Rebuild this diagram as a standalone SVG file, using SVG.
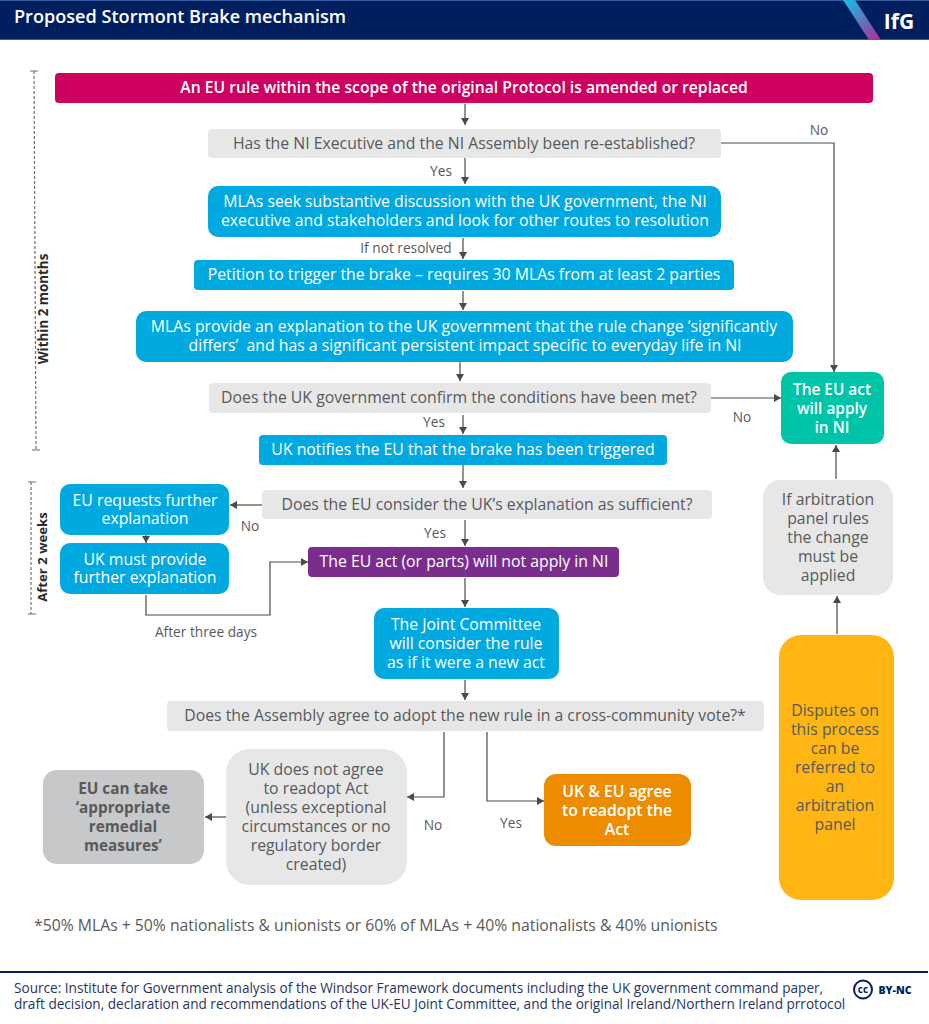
<svg xmlns="http://www.w3.org/2000/svg" width="929" height="1024" viewBox="0 0 929 1024">
<style>
text{font-family:"Open Sans","Noto Sans","Liberation Sans",sans-serif;text-anchor:middle}
.w{fill:#fff;font-size:15.8px}
.g{fill:#58595b;font-size:15.8px}
.l{fill:#58595b;font-size:13.7px}
.blue{fill:#00a9e0}
.grey{fill:#e7e7e8}
.c{fill:none;stroke:#4a4a4a;stroke-width:1.2;marker-end:url(#a)}
.d{fill:none;stroke:#6d6d6d;stroke-width:1.2;stroke-dasharray:3 2}
.t{fill:none;stroke:#6d6d6d;stroke-width:1.2}
.s{fill:#2b2b2b;font-size:13.4px;font-weight:700}
</style>
<defs>
<marker id="a" markerUnits="userSpaceOnUse" markerWidth="8" markerHeight="8" refX="7" refY="4" orient="auto"><path d="M0 0L7 4L0 8Z" fill="#4a4a4a"/></marker>
<linearGradient id="st" x1="0" y1="0" x2="1" y2="1"><stop offset="0.1" stop-color="#1cb5e0"/><stop offset="0.9" stop-color="#a4379e"/></linearGradient>
</defs>
<rect width="929" height="1024" fill="#fff"/>
<g id="header">
<rect x="0" y="0" width="929" height="40" fill="#001f5f"/>
<rect x="0" y="0" width="929" height="1" fill="#3a5a9f"/>
<rect x="0" y="39" width="929" height="1" fill="#3a5a9f"/>
<path d="M843 0H855L881 40H869Z" fill="url(#st)"/>
<text x="14" y="23" style="text-anchor:start;font-size:18.1px;font-weight:600" fill="#fff">Proposed Stormont Brake mechanism</text>
<text x="899" y="29" style="font-size:21px;font-weight:700" fill="#fff">IfG</text>
</g>
<g id="connectors">
<path class="c" d="M465 104V125"/>
<path class="c" d="M465 158V184"/>
<path class="c" d="M463 238V259"/>
<path class="c" d="M463 291V310"/>
<path class="c" d="M460 362V381"/>
<path class="c" d="M463 415V434"/>
<path class="c" d="M463 465V488"/>
<path class="c" d="M465 520V546"/>
<path class="c" d="M465 578V607"/>
<path class="c" d="M465 680V700"/>
<path class="c" d="M721 143H834V372"/>
<path class="c" d="M711 398H781"/>
<path class="c" d="M836 479V445"/>
<path class="c" d="M837 634V596"/>
<path class="c" d="M262 505H230"/>
<path class="c" d="M146 535V543"/>
<path class="c" d="M146 595V615H270V562H308"/>
<path class="c" d="M444 732V797H407"/>
<path class="c" d="M487 732V801H544"/>
<path class="c" d="M226 817H205"/>
</g>
<g id="timeline">
<path class="d" d="M34 71L36 450"/><path class="t" d="M30 71H38M32 450H40"/>
<text class="s" transform="translate(48 309) rotate(-90)">Within 2 months</text>
<path class="d" d="M31 482V614"/><path class="t" d="M28 482H36M28 614H36"/>
<text class="s" style="font-size:13.2px" transform="translate(47 557) rotate(-90)">After 2 weeks</text>
</g>
<g id="n1"><rect x="55" y="73" width="818" height="30" rx="4" fill="#ce0060"/><text class="w" x="464" y="93" style="font-size:15.7px" font-weight="600">An EU rule within the scope of the original Protocol is amended or replaced</text></g>
<g id="n2"><rect class="grey" x="208" y="129" width="513" height="29" rx="4"/><text class="g" x="464" y="149">Has the NI Executive and the NI Assembly been re-established?</text></g>
<g id="n3"><rect class="blue" x="208" y="186" width="513" height="51" rx="10"/><text class="w" x="465" y="207">MLAs seek substantive discussion with the UK government, the NI</text><text class="w" x="465" y="226">executive and stakeholders and look for other routes to resolution</text></g>
<g id="n4"><rect class="blue" x="194" y="260" width="540" height="30" rx="4"/><text class="w" x="464" y="280">Petition to trigger the brake – requires 30 MLAs from at least 2 parties</text></g>
<g id="n5"><rect class="blue" x="136" y="311" width="657" height="51" rx="10"/><text class="w" x="464" y="332">MLAs provide an explanation to the UK government that the rule change ‘significantly</text><text class="w" x="465" y="351" style="white-space:pre">differs’  and has a significant persistent impact specific to everyday life in NI</text></g>
<g id="n6"><rect class="grey" x="209" y="383" width="502" height="30" rx="4"/><text class="g" x="459" y="403">Does the UK government confirm the conditions have been met?</text></g>
<g id="n7"><rect class="blue" x="259" y="435" width="408" height="30" rx="4"/><text class="w" x="463" y="455">UK notifies the EU that the brake has been triggered</text></g>
<g id="n8"><rect class="grey" x="262" y="490" width="450" height="29" rx="4"/><text class="g" x="487" y="510">Does the EU consider the UK’s explanation as sufficient?</text></g>
<g id="n9"><rect class="blue" x="60" y="484" width="169" height="51" rx="10"/><text class="w" x="145" y="506">EU requests further</text><text class="w" x="145" y="524">explanation</text></g>
<g id="n10"><rect class="blue" x="60" y="543" width="169" height="51" rx="10"/><text class="w" x="145" y="565">UK must provide</text><text class="w" x="145" y="583">further explanation</text></g>
<g id="n11"><rect x="308" y="547" width="311" height="30" rx="4" fill="#7b2d8e"/><text class="w" x="464" y="567">The EU act (or parts) will not apply in NI</text></g>
<g id="n12"><rect class="blue" x="374" y="608" width="185" height="71" rx="10"/><text class="w" x="466" y="630">The Joint Committee</text><text class="w" x="466" y="649">will consider the rule</text><text class="w" x="466" y="668">as if it were a new act</text></g>
<g id="n13"><rect class="grey" x="167" y="701" width="597" height="30" rx="4"/><text class="g" x="465" y="721">Does the Assembly agree to adopt the new rule in a cross-community vote?*</text></g>
<g id="n14"><rect class="grey" x="226" y="749" width="181" height="136" rx="24"/><text class="g" x="316" y="775">UK does not agree</text><text class="g" x="316" y="794">to readopt Act</text><text class="g" x="316" y="813">(unless exceptional</text><text class="g" x="316" y="832">circumstances or no</text><text class="g" x="316" y="851">regulatory border</text><text class="g" x="316" y="870">created)</text></g>
<g id="n15"><rect x="43" y="770" width="161" height="94" rx="14" fill="#c7c8ca"/><text class="g" x="123" y="794" style="font-size:15.3px" font-weight="700">EU can take</text><text class="g" x="123" y="813" style="font-size:15.3px" font-weight="700">‘appropriate</text><text class="g" x="123" y="832" style="font-size:15.3px" font-weight="700">remedial</text><text class="g" x="123" y="851" style="font-size:15.3px" font-weight="700">measures’</text></g>
<g id="n16"><rect x="544" y="774" width="147" height="72" rx="12" fill="#ee8c00"/><text class="w" x="617" y="797" font-weight="600">UK &amp; EU agree</text><text class="w" x="617" y="816" font-weight="600">to readopt the</text><text class="w" x="617" y="835" font-weight="600">Act</text></g>
<g id="n17"><rect x="781" y="372" width="103" height="72" rx="10" fill="#00c4a7"/><text class="w" x="832" y="395" style="font-size:15.4px" font-weight="600">The EU act</text><text class="w" x="832" y="414" style="font-size:15.4px" font-weight="600">will apply</text><text class="w" x="832" y="433" style="font-size:15.4px" font-weight="600">in NI</text></g>
<g id="n18"><rect class="grey" x="763" y="480" width="130" height="115" rx="18"/><text class="g" x="828" y="505">If arbitration</text><text class="g" x="828" y="524">panel rules</text><text class="g" x="828" y="543">the change</text><text class="g" x="828" y="562">must be</text><text class="g" x="828" y="581">applied</text></g>
<g id="n19"><rect x="779" y="635" width="115" height="265" rx="22" fill="#ffb612"/><text class="g" x="835" y="716">Disputes on</text><text class="g" x="835" y="735">this process</text><text class="g" x="835" y="754">can be</text><text class="g" x="835" y="773">referred to</text><text class="g" x="835" y="792">an</text><text class="g" x="835" y="811">arbitration</text><text class="g" x="835" y="830">panel</text></g>
<g id="labels">
<text class="l" x="819" y="135">No</text>
<text class="l" x="441" y="176">Yes</text>
<text class="l" x="406" y="253">If not resolved</text>
<text class="l" x="434" y="427">Yes</text>
<text class="l" x="742" y="422">No</text>
<text class="l" x="250" y="531">No</text>
<text class="l" x="435" y="538">Yes</text>
<text class="l" x="206" y="637">After three days</text>
<text class="l" x="433" y="830">No</text>
<text class="l" x="511" y="828">Yes</text>
</g>
<text x="34" y="931" style="text-anchor:start;font-size:15.75px" fill="#58595b">*50% MLAs + 50% nationalists &amp; unionists or 60% of MLAs + 40% nationalists &amp; 40% unionists</text>
<g id="footer">
<rect x="0" y="971" width="928" height="2" fill="#001f5f"/>
<text x="14" y="993" style="text-anchor:start;font-size:13.6px" fill="#1f3564">Source: Institute for Government analysis of the Windsor Framework documents including the UK government command paper,</text>
<text x="14" y="1008.5" style="text-anchor:start;font-size:13.6px" fill="#1f3564">draft decision, declaration and recommendations of the UK-EU Joint Committee, and the original Ireland/Northern Ireland prrotocol</text>
<circle cx="863" cy="989.5" r="9" fill="none" stroke="#001f5f" stroke-width="2"/>
<text x="863" y="993" style="font-size:10px;font-weight:700" fill="#001f5f">cc</text>
<text x="895" y="993.5" style="font-size:10.5px;font-weight:800" fill="#001f5f">BY-NC</text>
</g>
</svg>
